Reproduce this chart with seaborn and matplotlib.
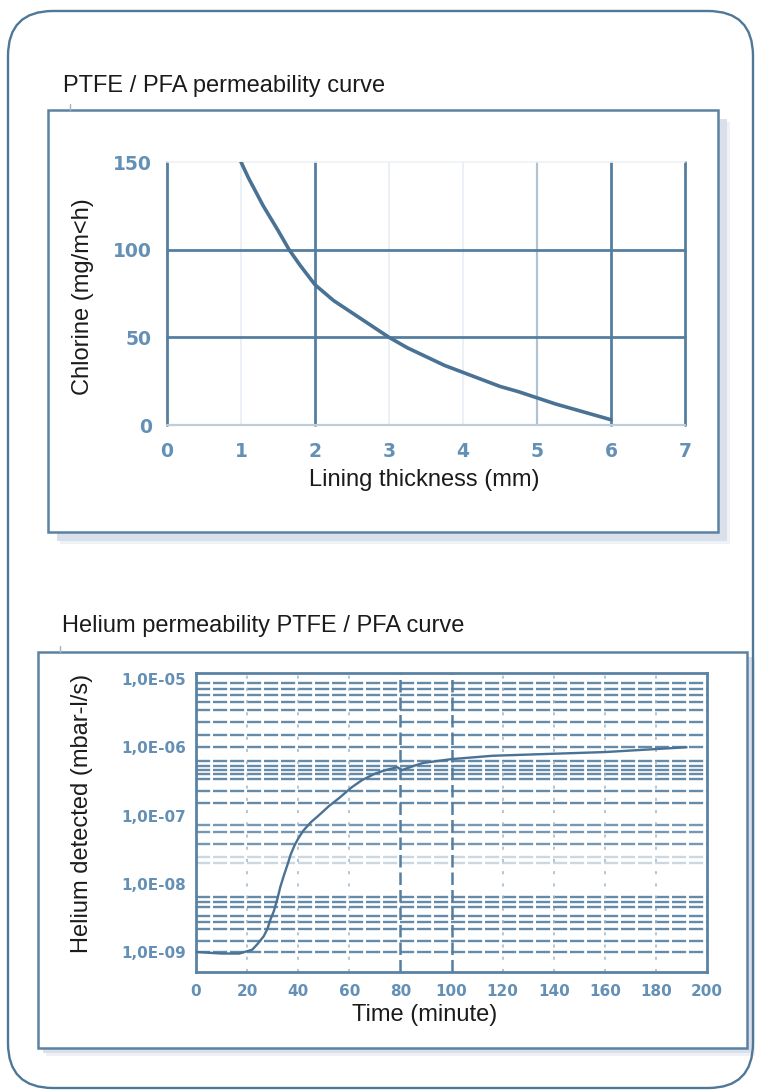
import matplotlib
matplotlib.use("Agg")
import matplotlib.pyplot as plt
from matplotlib.patches import FancyBboxPatch, Rectangle
from matplotlib.lines import Line2D
from matplotlib.ticker import NullLocator
import seaborn as sns

# chlorine permeability vs lining thickness (PTFE / PFA)
thickness_mm = [1.0, 1.1, 1.2, 1.3, 1.4, 1.5, 1.65, 1.8, 2.0, 2.25, 2.5, 2.75, 3.0,
                3.25, 3.5, 3.75, 4.0, 4.25, 4.5, 4.75, 5.0, 5.25, 5.5, 5.75, 6.0]
chlorine = [150, 141, 133, 125, 118, 111, 100, 91, 80, 71, 64, 57, 50,
            44, 39, 34, 30, 26, 22, 19, 15.5, 12, 9, 6, 3]
thick_ticks = [0, 1, 2, 3, 4, 5, 6, 7]
chlorine_ticks = [0, 50, 100, 150]

# helium detected vs time
time_min = [0, 10, 17, 22, 24, 26.5, 28, 29, 30.5, 32, 33, 34.5, 36, 37, 38.5, 40,
            42, 45, 48, 52, 56, 61, 65, 70, 74, 78.8, 80.5, 85, 89, 100, 116, 134,
            160, 192]
helium = [1.0e-9, 0.95e-9, 0.95e-9, 1.08e-9, 1.3e-9, 1.7e-9, 2.2e-9, 2.9e-9, 4.0e-9,
          6.3e-9, 9.0e-9, 1.36e-8, 2.0e-8, 2.65e-8, 3.6e-8, 4.6e-8,
          6.0e-8, 8.0e-8, 1.0e-7, 1.37e-7, 1.8e-7, 2.6e-7, 3.3e-7, 4.1e-7, 4.6e-7,
          5.1e-7, 4.6e-7, 5.3e-7, 5.9e-7, 6.7e-7, 7.5e-7, 7.9e-7,
          8.5e-7, 1.0e-6]
time_ticks = [0, 20, 40, 60, 80, 100, 120, 140, 160, 180, 200]
helium_ticks = [1e-9, 1e-8, 1e-7, 1e-6, 1e-5]
helium_tick_labels = ["1,0E-09", "1,0E-08", "1,0E-07", "1,0E-06", "1,0E-05"]

# printed horizontal rulings of the scanned log paper: (decade, fractions, alpha)
rulings = [
    (-9, [0.0, 0.163, 0.344, 0.44, 0.522, 0.655, 0.737, 0.799], 0.9),
    (-8, [0.303, 0.385], 0.3),
    (-8, [0.577, 0.76, 0.856], 0.8),
    (-7, [0.188, 0.359, 0.538, 0.614, 0.673, 0.731, 0.794], 0.9),
    (-6, [0.0, 0.179, 0.363, 0.542, 0.665, 0.765, 0.849, 0.944], 0.9),
]

BORDER = "#4f7797"
FRAME = "#5a82a3"
GRID = "#557ea0"
TICK = "#6590b5"
CURVE = "#4a7294"
SHADOW = "#d9e0ea"
TEXT = "#1b1b1b"

sns.set_style("white")
plt.rcParams["font.family"] = ["Liberation Sans", "DejaVu Sans"]

W, H = 760, 1091
fig = plt.figure(figsize=(W / 100, H / 100), dpi=100)


def fx(px):
    return px / W


def fy(py):
    return 1 - py / H


def box(x0, y0, x1, y1, off=9):
    # frame with a soft drop shadow, pixel coords from top-left
    for o, col in [(off + 3, "#eef2f6"), (off, SHADOW)]:
        fig.patches.append(Rectangle((fx(x0 + o), fy(y1 + o)), fx(x1 - x0), fy(y0) - fy(y1),
                                     transform=fig.transFigure, fc=col, ec="none", zorder=1))
    fig.patches.append(Rectangle((fx(x0), fy(y1)), fx(x1 - x0), fy(y0) - fy(y1),
                                 transform=fig.transFigure, fc="white", ec=FRAME, lw=1.8, zorder=1.2))
    fig.lines.append(Line2D([fx(x0 + 22), fx(x0 + 22)], [fy(y0), fy(y0 - 6)],
                            transform=fig.transFigure, color="#9fb4c6", lw=1))


box(48, 110, 718, 532)
box(38, 652, 747, 1048, off=5)

# outer rounded panel
fig.patches.append(FancyBboxPatch((0.08, 0.03), 7.45, 10.77,
                                  boxstyle="round,pad=0,rounding_size=0.45",
                                  transform=fig.dpi_scale_trans, fill=False,
                                  ec=BORDER, lw=1.7, zorder=3))

# ---------- top: chlorine ----------
ax1 = fig.add_axes([fx(167), fy(425), (685 - 167) / W, (425 - 162) / H])
ax1.set_zorder(5)
ax1.patch.set_alpha(0)
v_style = {0: (GRID, 2.0), 1: ("#e6edf3", 1.2), 2: (GRID, 2.0), 3: ("#e6edf3", 1.2),
           4: ("#e6edf3", 1.2), 5: ("#aec3d4", 1.6), 6: (GRID, 2.0), 7: (GRID, 2.0)}
for x in thick_ticks:
    c, w = v_style[x]
    ax1.axvline(x, color=c, lw=w, clip_on=False, zorder=1)
h_style = {0: ("#bccddb", 1.6), 50: (GRID, 2.0), 100: (GRID, 2.0), 150: ("#eef2f6", 1.2)}
for y in chlorine_ticks:
    c, w = h_style[y]
    ax1.axhline(y, color=c, lw=w, clip_on=False, zorder=1)
sns.lineplot(x=thickness_mm, y=chlorine, ax=ax1, color=CURVE, lw=2.6, zorder=3)
ax1.set_xlim(0, 7)
ax1.set_ylim(0, 150)
ax1.set_xticks(thick_ticks)
ax1.set_yticks(chlorine_ticks)
for s in ax1.spines.values():
    s.set_visible(False)
ax1.tick_params(axis="x", length=0, pad=12, labelsize=13.5, labelcolor=TICK)
ax1.tick_params(axis="y", length=0, pad=11, labelsize=13.5, labelcolor=TICK)
for lbl in ax1.get_xticklabels() + ax1.get_yticklabels():
    lbl.set_fontweight("bold")
    lbl.set_family("DejaVu Sans")
ax1.set_xlabel("")
ax1.set_ylabel("")

# ---------- bottom: helium ----------
ax2 = fig.add_axes([fx(196), fy(972), (707 - 196) / W, (972 - 673) / H])
ax2.set_zorder(5)
ax2.patch.set_alpha(0)
ax2.set_yscale("log")
ymin, ymax = 10 ** -9.293, 10 ** -4.912
for dec, fracs, a in rulings:
    for f in fracs:
        ax2.axhline(10 ** (dec + f), color=GRID, lw=1.7, ls=(0, (6, 1.2)), alpha=a, zorder=1)
for x in time_ticks[1:-1]:
    if x in (80, 100):
        ax2.axvline(x, color=GRID, lw=1.8, ls=(0, (5, 2)), zorder=1.5)
    else:
        ax2.axvline(x, color="#9fb6c9", lw=1.1, ls=(0, (2, 6)), zorder=1.5)
sns.lineplot(x=time_min, y=helium, ax=ax2, color=CURVE, lw=1.7, zorder=3)
ax2.set_xlim(0, 200)
ax2.set_ylim(ymin, ymax)
ax2.set_xticks(time_ticks)
ax2.set_yticks(helium_ticks)
ax2.set_yticklabels(helium_tick_labels)
ax2.yaxis.set_minor_locator(NullLocator())
for s in ax2.spines.values():
    s.set_visible(True)
    s.set_color(FRAME)
    s.set_linewidth(2)
ax2.tick_params(axis="x", length=0, pad=9, labelsize=11, labelcolor=TICK)
ax2.tick_params(axis="y", length=0, pad=7, labelsize=11, labelcolor=TICK)
for lbl in ax2.get_xticklabels() + ax2.get_yticklabels():
    lbl.set_fontweight("bold")
    lbl.set_family("DejaVu Sans")
ax2.set_xlabel("")
ax2.set_ylabel("")

# ---------- texts ----------
fig.text(fx(63), fy(86), "PTFE / PFA permeability curve", ha="left", va="center",
         fontsize=17, color=TEXT)
fig.text(fx(83), fy(297), "Chlorine (mg/m<h)", ha="center", va="center",
         rotation=90, fontsize=17, color=TEXT)
fig.text(fx(424), fy(480), "Lining thickness (mm)", ha="center", va="center",
         fontsize=17, color=TEXT)

fig.text(fx(62), fy(626), "Helium permeability PTFE / PFA curve", ha="left", va="center",
         fontsize=17, color=TEXT)
fig.text(fx(82), fy(813), "Helium detected (mbar-l/s)", ha="center", va="center",
         rotation=90, fontsize=17, color=TEXT)
fig.text(fx(425), fy(1015), "Time (minute)", ha="center", va="center",
         fontsize=17, color=TEXT)

fig.savefig("out.png", dpi=100)
